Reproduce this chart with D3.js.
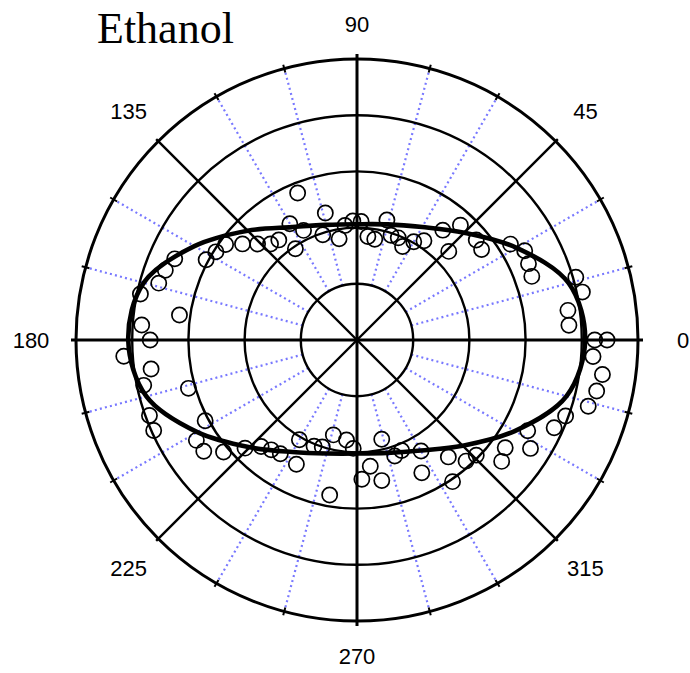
<!DOCTYPE html>
<html>
<head>
<meta charset="utf-8">
<script src="https://cdn.jsdelivr.net/npm/d3@7/dist/d3.min.js"></script>
<style>
    body { margin: 0; background: #ffffff; }
</style>
</head>
<body>
<svg id="chart" width="690" height="673"></svg>
<script>
// measured points: angle in degrees (counter-clockwise from 0), radius in ring units
let pointAngles = [0, 4, 8, 12, 16, 20, 24, 28, 32, 36, 40, 44, 48, 52, 56, 60, 64, 68, 72, 76,
    80, 84, 88, 92, 96, 100, 104, 108, 112, 116, 120, 124, 128, 132, 136, 140, 144, 148, 152, 156,
    160, 164, 168, 172, 176, 180, 184, 188, 192, 196, 200, 204, 208, 212, 216, 220, 224, 228, 232, 236,
    240, 244, 248, 252, 256, 260, 264, 268, 272, 276, 280, 284, 288, 292, 296, 300, 304, 308, 312, 316,
    320, 324, 328, 332, 336, 340, 344, 348, 352, 356, 360]
let pointRadii = [4.23, 3.78, 3.79, 4.10, 4.05, 3.31, 3.34, 3.38, 3.22, 2.74, 2.77, 2.27, 2.75, 2.48, 2.13, 2.02, 1.85, 1.96, 1.96, 2.20,
    1.82, 1.85, 2.11, 2.12, 2.05, 1.83, 2.33, 1.97, 2.82, 2.17, 2.39, 1.96, 2.26, 2.30, 2.46, 2.66, 2.89, 2.96, 3.04, 3.55,
    3.63, 3.67, 3.94, 3.19, 3.84, 3.68, 4.16, 3.70, 3.88, 3.12, 3.93, 3.96, 3.06, 3.37, 3.37, 3.10, 2.77, 2.55, 2.48, 2.44,
    2.05, 2.46, 2.04, 2.00, 1.74, 2.80, 1.79, 1.93, 2.48, 2.26, 2.54, 1.82, 2.17, 2.12, 2.63, 2.28, 3.04, 2.64, 2.90, 2.95,
    3.36, 3.26, 3.64, 3.44, 3.84, 3.95, 4.28, 4.36, 4.41, 4.21, 4.45]

// fitted curve, read every 15 degrees
let fitAngles = [0, 15, 30, 45, 60, 75, 90, 105, 120, 135, 150, 165, 180, 195, 210, 225, 240, 255, 270, 285, 300, 315, 330, 345]
let fitRadii = [4.06, 3.90, 3.28, 2.70, 2.32, 2.13, 2.06, 2.12, 2.32, 2.75, 3.34, 3.93, 4.07, 3.88, 3.28, 2.70, 2.30, 2.09, 2.02, 2.08, 2.27, 2.66, 3.24, 3.86]

let ringValues = [1, 2, 3, 4, 5]
let majorAngles = [0, 45, 90, 135, 180, 225, 270, 315]
let minorAngles = [15, 30, 60, 75, 105, 120, 150, 165, 195, 210, 240, 255, 285, 300, 330, 345]
let angleLabels = ['0', '45', '90', '135', '180', '225', '270', '315']
let chartTitle = 'Ethanol'

let cx = 357
let cy = 340
let rScale = d3.scaleLinear().domain([0, 5]).range([0, 281])
let rad = d => d * Math.PI / 180

let svg = d3.select('#chart')
let g = svg.append('g').attr('transform', 'translate(' + cx + ',' + cy + ')')

// dotted minor spokes
g.selectAll('.minor-spoke')
    .data(minorAngles)
    .enter()
    .append('line')
    .attr('class', 'minor-spoke')
    .attr('x1', d => rScale(1) * Math.cos(rad(d)))
    .attr('y1', d => -rScale(1) * Math.sin(rad(d)))
    .attr('x2', d => rScale(5) * Math.cos(rad(d)))
    .attr('y2', d => -rScale(5) * Math.sin(rad(d)))
    .attr('stroke', '#7878ff')
    .attr('stroke-width', 2.2)
    .attr('stroke-dasharray', '2,3.2')

// rings
g.selectAll('.ring')
    .data(ringValues)
    .enter()
    .append('circle')
    .attr('class', 'ring')
    .attr('r', d => rScale(d))
    .attr('fill', 'none')
    .attr('stroke', '#000')
    .attr('stroke-width', d => d == 5 ? 3 : 2.4)

// solid spokes
g.selectAll('.major-spoke')
    .data(majorAngles)
    .enter()
    .append('line')
    .attr('class', 'major-spoke')
    .attr('x1', 0)
    .attr('y1', 0)
    .attr('x2', d => (d % 90 == 0 ? 286 : 284) * Math.cos(rad(d)))
    .attr('y2', d => -(d % 90 == 0 ? 286 : 284) * Math.sin(rad(d)))
    .attr('stroke', '#000')
    .attr('stroke-width', d => d % 90 == 0 ? 3 : 2.4)

// tick marks on the outer ring
g.selectAll('.tick-mark')
    .data(minorAngles)
    .enter()
    .append('line')
    .attr('class', 'tick-mark')
    .attr('x1', d => (rScale(5) - 4) * Math.cos(rad(d)))
    .attr('y1', d => -(rScale(5) - 4) * Math.sin(rad(d)))
    .attr('x2', d => (rScale(5) + 4) * Math.cos(rad(d)))
    .attr('y2', d => -(rScale(5) + 4) * Math.sin(rad(d)))
    .attr('stroke', '#000')
    .attr('stroke-width', 2)

// angle labels
g.selectAll('.angle-label')
    .data(majorAngles)
    .enter()
    .append('text')
    .attr('class', 'angle-label')
    .attr('x', d => (316 + 10 * Math.abs(Math.cos(rad(d)))) * Math.cos(rad(d)))
    .attr('y', d => -(316 + 10 * Math.abs(Math.cos(rad(d)))) * Math.sin(rad(d)))
    .attr('text-anchor', 'middle')
    .attr('dy', '0.36em')
    .style('font-family', 'Liberation Sans, Arial, sans-serif')
    .style('font-size', '22px')
    .attr('fill', '#000')
    .text((d, i) => angleLabels[i])

// fitted curve
let fitData = fitAngles.map((a, i) => [a, fitRadii[i]])
let radialLine = d3.lineRadial()
    .angle(d => Math.PI / 2 - rad(d[0]))
    .radius(d => rScale(d[1]))
    .curve(d3.curveCatmullRomClosed.alpha(0.5))

g.append('path')
    .datum(fitData)
    .attr('d', radialLine)
    .attr('fill', 'none')
    .attr('stroke', '#000')
    .attr('stroke-width', 4.6)

// measured points
g.selectAll('.point')
    .data(pointAngles)
    .enter()
    .append('circle')
    .attr('class', 'point')
    .attr('cx', (d, i) => rScale(pointRadii[i]) * Math.cos(rad(d)))
    .attr('cy', (d, i) => -rScale(pointRadii[i]) * Math.sin(rad(d)))
    .attr('r', 7.6)
    .attr('fill', 'none')
    .attr('stroke', '#000')
    .attr('stroke-width', 1.7)

// title
svg.append('text')
    .attr('x', 97)
    .attr('y', 43)
    .style('font-family', 'Liberation Serif, Times New Roman, serif')
    .style('font-size', '44px')
    .attr('fill', '#000')
    .text(chartTitle)
</script>
</body>
</html>
